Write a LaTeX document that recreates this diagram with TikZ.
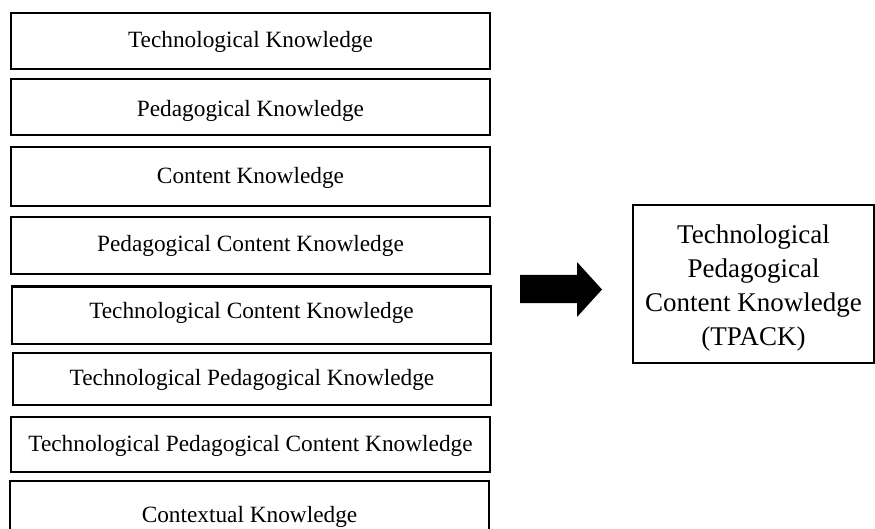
\documentclass[tikz,border=0pt]{standalone}
\usepackage{fontspec}
\setmainfont{Liberation Serif}
\begin{document}
\begin{tikzpicture}[x=1pt,y=-1pt,
  kbox/.style={draw=black, line width=2pt, minimum width=479pt, inner sep=0pt,
    text depth=0pt, text height=14pt, font=\fontsize{23.3}{27}\selectfont},
  boff/.style={text height=#1},
  tbox/.style={draw=black, line width=1.1pt, minimum width=241pt, minimum height=158pt,
    inner sep=0pt, align=center, text height=122pt, text depth=0pt,
    font=\fontsize{27}{34}\selectfont},
  blockarrow/.style={fill=black}]
\clip (0,0) rectangle (875,529);
\fill[white] (0,0) rectangle (875,529);
\node[kbox, minimum height=56pt] (k1) at (250.5,41) {Technological Knowledge};
\node[kbox, minimum height=56pt, boff=18pt] (k2) at (250.5,107.5) {Pedagogical Knowledge};
\node[kbox, minimum height=59pt] (k3) at (250.5,177) {Content Knowledge};
\node[kbox, minimum height=57pt, boff=12pt] (k4) at (250.5,245.5) {Pedagogical Content Knowledge};
\node[kbox, minimum height=57pt, boff=7pt] (k5) at (251.5,315) {Technological Content Knowledge};
\node[kbox, minimum height=52pt, minimum width=478pt, boff=12pt] (k6) at (252,379) {Technological Pedagogical Knowledge};
\node[kbox, minimum height=55pt, boff=15pt] (k7) at (250.5,444.2) {Technological Pedagogical Content Knowledge};
\node[kbox, minimum height=68pt] (k8) at (249.5,515) {Contextual Knowledge};
\node[tbox] (t) at (753.5,284) {Technological\\Pedagogical\\Content Knowledge\\(TPACK)};
\fill[blockarrow] (520,275) -- (577,275) -- (577,262) -- (602,289.5) -- (577,317) -- (577,303) -- (520,303) -- cycle;
\end{tikzpicture}
\end{document}
